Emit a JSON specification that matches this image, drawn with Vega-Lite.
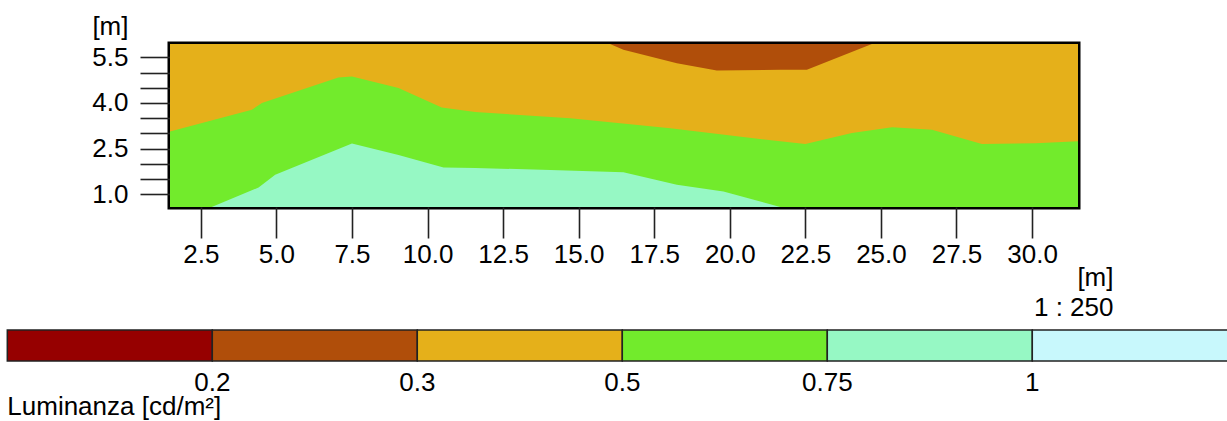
{
  "$schema": "https://vega.github.io/schema/vega-lite/v6.json",
  "width": 908,
  "height": 163,
  "autosize": {"type": "none"},
  "padding": {"left": 170, "top": 44, "right": 149, "bottom": 214},
  "background": "white",
  "config": {
    "font": "Liberation Sans",
    "view": {"stroke": "#000000", "strokeWidth": 5},
    "axis": {"labelColor": "#000", "titleColor": "#000", "labelFontSize": 26, "titleFontSize": 26, "titleFontWeight": "normal", "tickColor": "#222", "tickWidth": 1.6, "domain": false, "grid": false}
  },
  "data": {"values": [
    {"band": "gold", "cls": 2.5, "x": 1.48, "y": 6},
    {"band": "gold", "cls": 2.5, "x": 31.52, "y": 6},
    {"band": "green", "cls": 3.5, "x": 1.48, "y": 3.06},
    {"band": "green", "cls": 3.5, "x": 4.19, "y": 3.78},
    {"band": "green", "cls": 3.5, "x": 4.52, "y": 4.0},
    {"band": "green", "cls": 3.5, "x": 7.05, "y": 4.84},
    {"band": "green", "cls": 3.5, "x": 7.5, "y": 4.87},
    {"band": "green", "cls": 3.5, "x": 9.04, "y": 4.49},
    {"band": "green", "cls": 3.5, "x": 10.47, "y": 3.85},
    {"band": "green", "cls": 3.5, "x": 11.58, "y": 3.7},
    {"band": "green", "cls": 3.5, "x": 14.72, "y": 3.5},
    {"band": "green", "cls": 3.5, "x": 18.03, "y": 3.17},
    {"band": "green", "cls": 3.5, "x": 21.67, "y": 2.74},
    {"band": "green", "cls": 3.5, "x": 22.5, "y": 2.65},
    {"band": "green", "cls": 3.5, "x": 24.04, "y": 3.01},
    {"band": "green", "cls": 3.5, "x": 25.37, "y": 3.2},
    {"band": "green", "cls": 3.5, "x": 26.69, "y": 3.12},
    {"band": "green", "cls": 3.5, "x": 28.34, "y": 2.65},
    {"band": "green", "cls": 3.5, "x": 30.11, "y": 2.68},
    {"band": "green", "cls": 3.5, "x": 31.52, "y": 2.74},
    {"band": "mint", "cls": 4.5, "x": 2.86, "y": 0.58},
    {"band": "mint", "cls": 4.5, "x": 4.41, "y": 1.22},
    {"band": "mint", "cls": 4.5, "x": 4.96, "y": 1.64},
    {"band": "mint", "cls": 4.5, "x": 7.5, "y": 2.67},
    {"band": "mint", "cls": 4.5, "x": 9.04, "y": 2.29},
    {"band": "mint", "cls": 4.5, "x": 10.53, "y": 1.88},
    {"band": "mint", "cls": 4.5, "x": 11.58, "y": 1.86},
    {"band": "mint", "cls": 4.5, "x": 14.06, "y": 1.8},
    {"band": "mint", "cls": 4.5, "x": 16.48, "y": 1.72},
    {"band": "mint", "cls": 4.5, "x": 18.25, "y": 1.31},
    {"band": "mint", "cls": 4.5, "x": 19.79, "y": 1.09},
    {"band": "mint", "cls": 4.5, "x": 21.67, "y": 0.58},
    {"band": "brown", "cls": 1.5, "x": 16.04, "y": 5.94},
    {"band": "brown", "cls": 1.5, "x": 16.48, "y": 5.75},
    {"band": "brown", "cls": 1.5, "x": 18.25, "y": 5.31},
    {"band": "brown", "cls": 1.5, "x": 19.57, "y": 5.07},
    {"band": "brown", "cls": 1.5, "x": 21.67, "y": 5.09},
    {"band": "brown", "cls": 1.5, "x": 22.55, "y": 5.09},
    {"band": "brown", "cls": 1.5, "x": 24.7, "y": 5.94}
  ]},
  "encoding": {
    "x": {"field": "x", "type": "quantitative",
      "scale": {"domain": [1.48, 31.52], "nice": false, "zero": false},
      "axis": {"values": [2.5, 5, 7.5, 10, 12.5, 15, 17.5, 20, 22.5, 25, 27.5, 30], "format": ".1f", "tickSize": 31, "labelPadding": 3,
        "title": ["[m]", "1 : 250"], "titleX": 943, "titleY": 78, "titleAlign": "right", "titleBaseline": "alphabetic", "titleLineHeight": 30}},
    "y": {"field": "y", "type": "quantitative",
      "scale": {"domain": [0.58, 5.94], "nice": false, "zero": false},
      "axis": {"values": [1, 1.5, 2, 2.5, 3, 3.5, 4, 4.5, 5, 5.5], "tickSize": 30, "labelPadding": 12,
        "labelExpr": "indexof([1, 2.5, 4, 5.5], datum.value) >= 0 ? format(datum.value, '.1f') : ''",
        "title": "[m]", "titleAngle": 0, "titleX": -42, "titleY": -10, "titleAlign": "right", "titleBaseline": "alphabetic"}},
    "color": {"field": "cls", "type": "quantitative",
      "scale": {"type": "threshold", "domain": [1, 2, 3, 4, 5], "range": ["#960000", "#B04E0A", "#E5B01A", "#72EB2C", "#96F8C4", "#C8F8FC"]},
      "legend": {"type": "gradient", "direction": "horizontal", "orient": "none", "legendX": -162.7, "legendY": 286, "padding": 0,
        "gradientLength": 1230, "gradientThickness": 31, "gradientStrokeColor": "#222", "gradientStrokeWidth": 1.5,
        "labelExpr": "['0.2', '0.3', '0.5', '0.75', '1'][datum.value - 1]", "labelFontSize": 26, "labelColor": "#000", "labelOffset": 9,
        "title": "Luminanza [cd/m²]", "titleLimit": 600, "titleOrient": "bottom", "titleAnchor": "start", "titleFontSize": 26, "titleFontWeight": "normal", "titleColor": "#000", "titlePadding": -2}}
  },
  "layer": [
    {"transform": [{"filter": "datum.band == 'gold'"}], "mark": {"type": "area", "clip": true}},
    {"transform": [{"filter": "datum.band == 'green'"}], "mark": {"type": "area", "clip": true}},
    {"transform": [{"filter": "datum.band == 'mint'"}], "mark": {"type": "area", "clip": true}},
    {"transform": [{"filter": "datum.band == 'brown'"}], "mark": {"type": "area", "clip": true},
      "encoding": {"y2": {"datum": 5.94}}}
  ]
}
